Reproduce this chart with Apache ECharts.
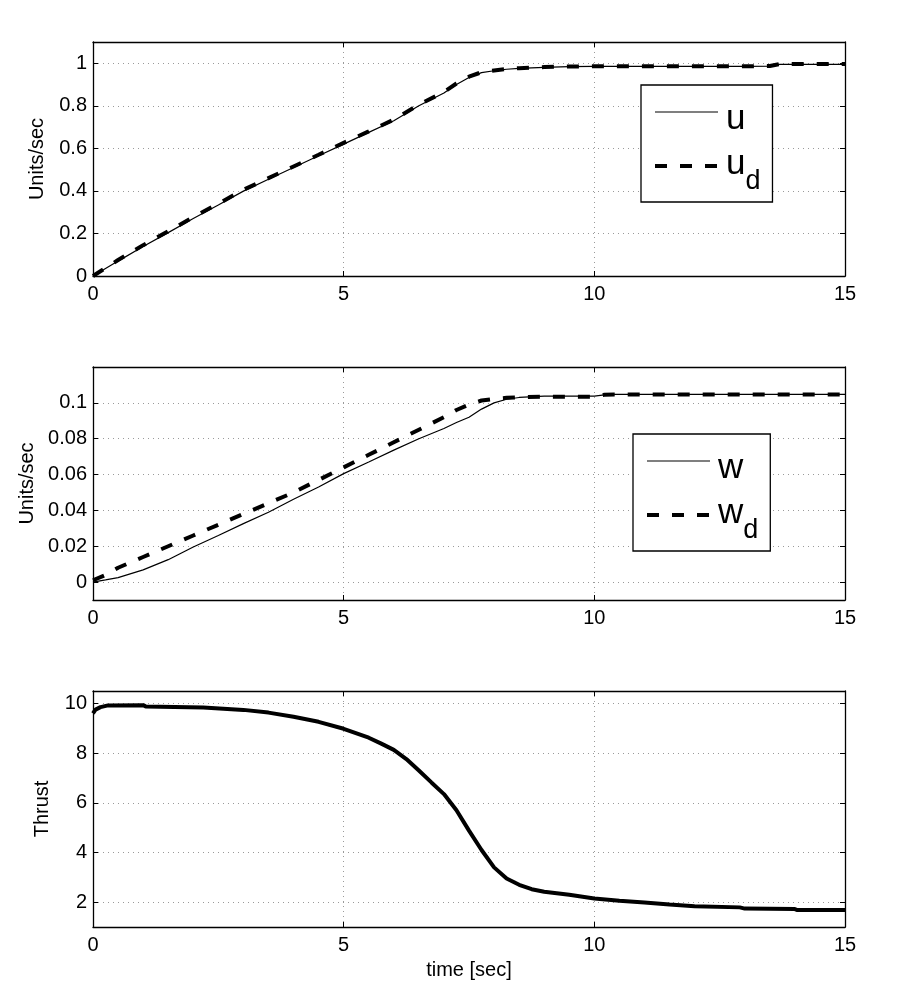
<!DOCTYPE html>
<html>
<head>
<meta charset="utf-8">
<script src="https://cdn.jsdelivr.net/npm/echarts@6/dist/echarts.min.js"></script>
<style>
  html, body { margin: 0; padding: 0; background: #fff; }
  #main { width: 900px; height: 1005px; }
</style>
</head>
<body>
<div id="main"></div>
<script>
// time samples (sec)
var tU = [0, 0.5, 1, 1.5, 2, 2.5, 3, 3.5, 4, 4.5, 5, 5.5, 6, 6.5, 7, 7.25, 7.5, 7.75, 8, 8.25, 8.5, 9, 9.5, 10, 11, 12, 13, 13.5, 13.7, 14, 15];
var udVals = [0, 0.075, 0.145, 0.21, 0.277, 0.34, 0.405, 0.46, 0.515, 0.57, 0.626, 0.68, 0.735, 0.805, 0.865, 0.905, 0.937, 0.958, 0.966, 0.973, 0.977, 0.982, 0.985, 0.986, 0.986, 0.986, 0.986, 0.987, 0.996, 0.996, 0.996];
var uVals  = [0, 0.07, 0.139, 0.204, 0.27, 0.334, 0.399, 0.455, 0.51, 0.565, 0.62, 0.675, 0.73, 0.8, 0.86, 0.9, 0.933, 0.956, 0.965, 0.972, 0.976, 0.981, 0.984, 0.985, 0.985, 0.985, 0.985, 0.986, 0.995, 0.995, 0.995];

var tW = [0, 0.25, 0.5, 1, 1.5, 2, 2.5, 3, 3.5, 4, 4.5, 5, 5.5, 6, 6.5, 7, 7.25, 7.5, 7.75, 8, 8.25, 8.5, 9, 9.5, 10, 10.2, 10.4, 11, 12, 13, 14, 15];
var wdVals = [0.001, 0.004, 0.008, 0.014, 0.02, 0.026, 0.032, 0.038, 0.044, 0.05, 0.057, 0.064, 0.071, 0.078, 0.085, 0.092, 0.096, 0.099, 0.1013, 0.1022, 0.1028, 0.1031, 0.1034, 0.1034, 0.1034, 0.1045, 0.1047, 0.1047, 0.1047, 0.1047, 0.1047, 0.1047];
var wVals  = [0, 0.0012, 0.0025, 0.0068, 0.0125, 0.0196, 0.026, 0.0326, 0.039, 0.0462, 0.053, 0.0605, 0.067, 0.0736, 0.08, 0.0857, 0.089, 0.092, 0.0965, 0.1, 0.102, 0.103, 0.1038, 0.1038, 0.1038, 0.1045, 0.1047, 0.1047, 0.1047, 0.1047, 0.1047, 0.1047];

var tT = [0, 0.05, 0.15, 0.3, 1, 1.05, 2.2, 3, 3.5, 4, 4.5, 5, 5.5, 5.75, 6, 6.25, 6.5, 6.75, 7, 7.25, 7.5, 7.75, 8, 8.25, 8.5, 8.75, 9, 9.5, 10, 10.5, 11, 11.5, 12, 12.9, 13, 14, 14.05, 15];
var thrustVals = [9.6, 9.75, 9.85, 9.92, 9.93, 9.88, 9.84, 9.74, 9.63, 9.46, 9.26, 8.98, 8.62, 8.38, 8.13, 7.76, 7.3, 6.82, 6.35, 5.7, 4.88, 4.1, 3.4, 2.95, 2.7, 2.52, 2.42, 2.3, 2.15, 2.06, 1.99, 1.91, 1.84, 1.79, 1.74, 1.72, 1.68, 1.68];

var xTicks = [0, 5, 10, 15];
var FONT = '"Liberation Sans", Arial, Helvetica, sans-serif';

function pairs(t, v) {
    var out = [];
    for (var i = 0; i < t.length; i++) out.push([t[i], v[i]]);
    return out;
}

var gridLine = {show: true, lineStyle: {color: '#9a9a9a', width: 1, type: [1, 4]}};
var frameLine = {show: true, onZero: false, lineStyle: {color: '#000', width: 1.3}};
var tickIn = {show: true, inside: true, length: 5, lineStyle: {color: '#000', width: 1}};

function xBottom(gi, name) {
    return {
        type: 'value', gridIndex: gi, position: 'bottom',
        min: xTicks[0], max: xTicks[xTicks.length - 1], interval: 5,
        axisLine: frameLine, axisTick: tickIn, splitLine: gridLine,
        axisLabel: {color: '#000', fontSize: 20, fontFamily: FONT, margin: 8},
        name: name || '', nameLocation: 'middle', nameGap: 33,
        nameTextStyle: {color: '#000', fontSize: 20, fontFamily: FONT}
    };
}
function xTop(gi) {
    return {
        type: 'value', gridIndex: gi, position: 'top',
        min: xTicks[0], max: xTicks[xTicks.length - 1], interval: 5,
        axisLine: frameLine, axisTick: tickIn, splitLine: {show: false},
        axisLabel: {show: false}
    };
}
function yLeft(gi, o) {
    return {
        type: 'value', gridIndex: gi, position: 'left',
        min: o.min, max: o.max, interval: o.interval, splitNumber: o.splitNumber,
        axisLine: frameLine, axisTick: tickIn, splitLine: gridLine,
        axisLabel: {color: '#000', fontSize: 20, fontFamily: FONT, margin: 6,
            showMinLabel: o.showMin, showMaxLabel: false},
        name: o.name, nameLocation: 'middle', nameGap: o.gap,
        nameTextStyle: {color: '#000', fontSize: 20, fontFamily: FONT}
    };
}
function yRight(gi, o) {
    return {
        type: 'value', gridIndex: gi, position: 'right',
        min: o.min, max: o.max, interval: o.interval, splitNumber: o.splitNumber,
        axisLine: frameLine, axisTick: tickIn, splitLine: {show: false},
        axisLabel: {show: false}
    };
}

var y1 = {min: 0, max: 1.1, interval: 0.2, showMin: true, name: 'Units/sec', gap: 46};
var y2 = {min: -0.01, max: 0.12, splitNumber: 6, showMin: false, name: 'Units/sec', gap: 50};
var y3 = {min: 1, max: 10.5, splitNumber: 5, showMin: false, name: 'Thrust', gap: 41};

var thin = {color: '#000', width: 1.2, type: 'solid'};
var dashed = {color: '#000', width: 4, type: [12, 13]};
var noMarker = {opacity: 0, borderWidth: 0};

function legendBox(left, top, names) {
    return {
        orient: 'vertical', left: left, top: top,
        data: [
            {name: names[0], lineStyle: thin, itemStyle: noMarker},
            {name: names[1], lineStyle: dashed, itemStyle: noMarker}
        ],
        itemWidth: 63, itemHeight: 14, itemGap: 10,
        padding: [8, 12, 7, 12],
        borderColor: '#000', borderWidth: 1.3, borderRadius: 0, backgroundColor: '#fff',
        selectedMode: false,
        formatter: function (name) {
            var p = name.split('_');
            return p.length > 1 ? '{m|' + p[0] + '}{s|' + p[1] + '}' : '{a|' + name + '}';
        },
        textStyle: {
            color: '#000', fontFamily: FONT,
            rich: {
                a: {fontSize: 35, lineHeight: 38, verticalAlign: 'top', fontFamily: FONT, color: '#000', padding: [9, 0, 0, 3]},
                m: {fontSize: 35, lineHeight: 38, verticalAlign: 'top', fontFamily: FONT, color: '#000', padding: [0, 0, 0, 3]},
                s: {fontSize: 27, lineHeight: 27, verticalAlign: 'top', fontFamily: FONT, color: '#000', padding: [21, 0, 0, 0]}
            }
        }
    };
}

var chart = echarts.init(document.getElementById('main'));
chart.setOption({
    animation: false,
    backgroundColor: '#fff',
    grid: [
        {left: 93, top: 42, width: 752, height: 234, outerBoundsMode: 'none'},
        {left: 93, top: 367, width: 752, height: 233, outerBoundsMode: 'none'},
        {left: 93, top: 691, width: 752, height: 236, outerBoundsMode: 'none'}
    ],
    xAxis: [xBottom(0), xTop(0), xBottom(1), xTop(1), xBottom(2, 'time [sec]'), xTop(2)],
    yAxis: [yLeft(0, y1), yRight(0, y1), yLeft(1, y2), yRight(1, y2), yLeft(2, y3), yRight(2, y3)],
    legend: [legendBox(641, 85, ['u', 'u_d']), legendBox(633, 434, ['w', 'w_d'])],
    series: [
        {name: 'u_d', type: 'line', xAxisIndex: 0, yAxisIndex: 0, data: pairs(tU, udVals), symbol: 'none', lineStyle: dashed, itemStyle: {color: '#000'}},
        {name: 'u', type: 'line', xAxisIndex: 0, yAxisIndex: 0, data: pairs(tU, uVals), symbol: 'none', lineStyle: thin, itemStyle: {color: '#000'}},
        {name: 'w_d', type: 'line', xAxisIndex: 2, yAxisIndex: 2, data: pairs(tW, wdVals), symbol: 'none', lineStyle: dashed, itemStyle: {color: '#000'}},
        {name: 'w', type: 'line', xAxisIndex: 2, yAxisIndex: 2, data: pairs(tW, wVals), symbol: 'none', lineStyle: thin, itemStyle: {color: '#000'}},
        {name: 'Thrust', type: 'line', xAxisIndex: 4, yAxisIndex: 4, data: pairs(tT, thrustVals), symbol: 'none', lineStyle: {color: '#000', width: 4}, itemStyle: {color: '#000'}}
    ]
});
</script>
</body>
</html>
